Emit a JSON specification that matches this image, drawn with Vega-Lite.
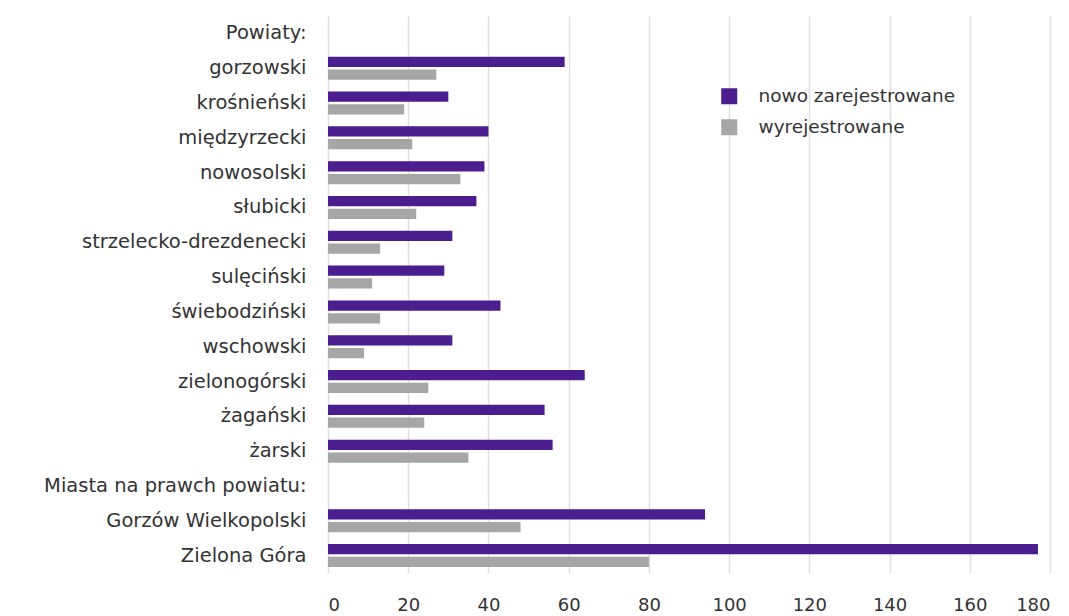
{
  "$schema": "https://vega.github.io/schema/vega-lite/v6.json",
  "autosize": {"type": "none"},
  "width": 722,
  "height": 557,
  "padding": {"left": 328, "top": 16, "right": 19, "bottom": 43},
  "background": "white",
  "config": {
    "view": {"stroke": null},
    "font": "DejaVu Sans",
    "axis": {"labelFont": "DejaVu Sans", "labelColor": "#333333"},
    "legend": {"labelFont": "DejaVu Sans"}
  },
  "data": {
    "values": [
      {"kategoria": "gorzowski", "typ": "nowo zarejestrowane", "wartosc": 59},
      {"kategoria": "gorzowski", "typ": "wyrejestrowane", "wartosc": 27},
      {"kategoria": "krośnieński", "typ": "nowo zarejestrowane", "wartosc": 30},
      {"kategoria": "krośnieński", "typ": "wyrejestrowane", "wartosc": 19},
      {"kategoria": "międzyrzecki", "typ": "nowo zarejestrowane", "wartosc": 40},
      {"kategoria": "międzyrzecki", "typ": "wyrejestrowane", "wartosc": 21},
      {"kategoria": "nowosolski", "typ": "nowo zarejestrowane", "wartosc": 39},
      {"kategoria": "nowosolski", "typ": "wyrejestrowane", "wartosc": 33},
      {"kategoria": "słubicki", "typ": "nowo zarejestrowane", "wartosc": 37},
      {"kategoria": "słubicki", "typ": "wyrejestrowane", "wartosc": 22},
      {"kategoria": "strzelecko-drezdenecki", "typ": "nowo zarejestrowane", "wartosc": 31},
      {"kategoria": "strzelecko-drezdenecki", "typ": "wyrejestrowane", "wartosc": 13},
      {"kategoria": "sulęciński", "typ": "nowo zarejestrowane", "wartosc": 29},
      {"kategoria": "sulęciński", "typ": "wyrejestrowane", "wartosc": 11},
      {"kategoria": "świebodziński", "typ": "nowo zarejestrowane", "wartosc": 43},
      {"kategoria": "świebodziński", "typ": "wyrejestrowane", "wartosc": 13},
      {"kategoria": "wschowski", "typ": "nowo zarejestrowane", "wartosc": 31},
      {"kategoria": "wschowski", "typ": "wyrejestrowane", "wartosc": 9},
      {"kategoria": "zielonogórski", "typ": "nowo zarejestrowane", "wartosc": 64},
      {"kategoria": "zielonogórski", "typ": "wyrejestrowane", "wartosc": 25},
      {"kategoria": "żagański", "typ": "nowo zarejestrowane", "wartosc": 54},
      {"kategoria": "żagański", "typ": "wyrejestrowane", "wartosc": 24},
      {"kategoria": "żarski", "typ": "nowo zarejestrowane", "wartosc": 56},
      {"kategoria": "żarski", "typ": "wyrejestrowane", "wartosc": 35},
      {"kategoria": "Gorzów Wielkopolski", "typ": "nowo zarejestrowane", "wartosc": 94},
      {"kategoria": "Gorzów Wielkopolski", "typ": "wyrejestrowane", "wartosc": 48},
      {"kategoria": "Zielona Góra", "typ": "nowo zarejestrowane", "wartosc": 177},
      {"kategoria": "Zielona Góra", "typ": "wyrejestrowane", "wartosc": 80}
    ]
  },
  "mark": {"type": "bar"},
  "encoding": {
    "y": {
      "field": "kategoria",
      "type": "nominal",
      "scale": {
        "domain": ["Powiaty:", "gorzowski", "krośnieński", "międzyrzecki", "nowosolski", "słubicki", "strzelecko-drezdenecki", "sulęciński", "świebodziński", "wschowski", "zielonogórski", "żagański", "żarski", "Miasta na prawch powiatu:", "Gorzów Wielkopolski", "Zielona Góra"],
        "paddingInner": 0.34,
        "paddingOuter": 0.17
      },
      "axis": {
        "title": null,
        "ticks": false,
        "domain": false,
        "labelFontSize": 19.5,
        "labelPadding": 22,
        "labelLimit": 400
      }
    },
    "yOffset": {
      "field": "typ",
      "type": "nominal",
      "sort": ["nowo zarejestrowane", "wyrejestrowane"],
      "scale": {"paddingInner": 0.2}
    },
    "x": {
      "field": "wartosc",
      "type": "quantitative",
      "scale": {"domain": [0, 180], "nice": false},
      "axis": {
        "title": null,
        "values": [0, 20, 40, 60, 80, 100, 120, 140, 160, 180],
        "ticks": false,
        "domain": false,
        "grid": true,
        "gridColor": "#dedede",
        "gridWidth": 1.5,
        "labelFontSize": 18,
        "labelPadding": 23
      }
    },
    "color": {
      "field": "typ",
      "type": "nominal",
      "scale": {
        "domain": ["nowo zarejestrowane", "wyrejestrowane"],
        "range": ["#4b1d8f", "#a6a6a6"]
      },
      "legend": {
        "title": null,
        "orient": "none",
        "legendX": 392,
        "legendY": 71,
        "symbolType": "square",
        "symbolSize": 256,
        "symbolStrokeWidth": 0,
        "labelFontSize": 18.5,
        "labelLimit": 400,
        "labelColor": "#333333",
        "labelOffset": 20,
        "rowPadding": 12
      }
    }
  }
}
